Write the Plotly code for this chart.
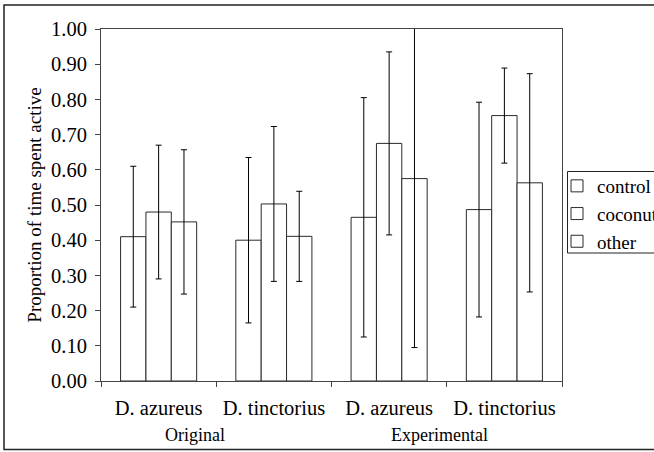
import plotly.graph_objects as go

categories = ["Original D. azureus", "Original D. tinctorius",
              "Experimental D. azureus", "Experimental D. tinctorius"]
tick_labels = ["D. azureus", "D. tinctorius", "D. azureus", "D. tinctorius"]
group_labels = ["Original", "Experimental"]

control = [0.41, 0.40, 0.465, 0.487]
control_err = [0.20, 0.235, 0.34, 0.305]
coconut = [0.48, 0.503, 0.675, 0.754]
coconut_err = [0.19, 0.22, 0.26, 0.135]
other = [0.452, 0.411, 0.575, 0.563]
other_err = [0.205, 0.128, 0.48, 0.31]

y_ticks = [0.0, 0.1, 0.2, 0.3, 0.4, 0.5, 0.6, 0.7, 0.8, 0.9, 1.0]

FONT = "Liberation Serif"
FS = 20.5
W, H = 654, 452
ML, MR, MT, MB = 101, 92, 29, 71
PW, PH = W - ML - MR, H - MT - MB


def px(x):
    return (x - ML) / PW


def py(y):
    return (MT + PH - y) / PH


fig = go.Figure()
for name, vals, errs in [("control", control, control_err),
                         ("coconut", coconut, coconut_err),
                         ("other", other, other_err)]:
    fig.add_trace(go.Bar(
        name=name,
        x=categories,
        y=vals,
        marker=dict(color="white", line=dict(color="#2a2a2a", width=1)),
        error_y=dict(type="data", array=errs, visible=True,
                     color="black", thickness=1, width=3),
    ))

annotations = [
    dict(text=group_labels[0], x=px(195), y=py(435), xref="paper", yref="paper",
         xanchor="center", yanchor="middle", showarrow=False,
         font=dict(family=FONT, size=18, color="black")),
    dict(text=group_labels[1], x=px(439), y=py(435), xref="paper", yref="paper",
         xanchor="center", yanchor="middle", showarrow=False,
         font=dict(family=FONT, size=18, color="black")),
]

fig.update_layout(
    width=W, height=H,
    margin=dict(l=ML, r=MR, t=MT, b=MB, autoexpand=False),
    paper_bgcolor="white", plot_bgcolor="white",
    font=dict(family=FONT, size=FS, color="black"),
    barmode="group", bargap=0.34, bargroupgap=0,
    showlegend=True,
    legend=dict(x=px(557), y=py(167), xanchor="left", yanchor="top",
                borderwidth=0, bgcolor="rgba(0,0,0,0)",
                font=dict(family=FONT, size=19, color="black"),
                itemwidth=30, tracegroupgap=0),
    xaxis=dict(type="category", tickvals=categories, ticktext=tick_labels,
               tickson="boundaries",
               showline=True, linecolor="#444444",
               linewidth=1, mirror=True, ticks="outside", ticklen=5,
               tickcolor="#444444", ticklabelstandoff=8,
               tickfont=dict(family=FONT, size=FS, color="black"),
               showgrid=False),
    yaxis=dict(range=[0, 1.0], tickvals=y_ticks,
               tickformat=".2f", showline=True, linecolor="#444444",
               linewidth=1, mirror=True, ticks="outside", ticklen=5,
               tickcolor="#444444", showgrid=False, zeroline=False,
               ticklabelstandoff=4,
               tickfont=dict(family=FONT, size=FS, color="black"),
               title=dict(text="Proportion of time spent active", standoff=4,
                          font=dict(family=FONT, size=19, color="black"))),
    annotations=annotations,
    shapes=[
        dict(type="rect", xref="paper", yref="paper",
             x0=px(4), x1=px(720), y0=py(449.5), y1=py(5),
             line=dict(color="#222222", width=1.5),
             fillcolor="rgba(0,0,0,0)", layer="below"),
        dict(type="rect", xref="paper", yref="paper",
             x0=px(567.5), x1=px(720), y0=py(253), y1=py(171.5),
             line=dict(color="#222222", width=1),
             fillcolor="rgba(0,0,0,0)", layer="below"),
    ],
)

fig.write_html("out.html", config={"displayModeBar": False},
               post_script="document.body.style.margin='0';")
